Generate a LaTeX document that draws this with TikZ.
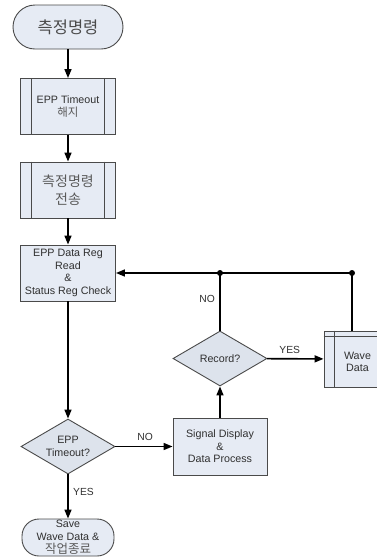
\documentclass[tikz,border=0pt]{standalone}
\usepackage{fontspec}
\setmainfont{Liberation Sans}
\newfontfamily\kr{Noto Sans CJK KR}
\usetikzlibrary{shapes.geometric,arrows.meta}

\definecolor{boxfill}{HTML}{E6EBF4}
\definecolor{dfill}{HTML}{DDE3EC}
\definecolor{edge}{HTML}{4A4A4A}
\definecolor{txtc}{HTML}{303030}
\definecolor{krc}{HTML}{5A5A5A}

\tikzset{
  base/.style={draw=edge, line width=0.9pt, fill=boxfill, inner sep=0pt,
    align=center, text=txtc, font=\fontsize{10.7}{12.5}\selectfont},
  terminal/.style={base, rounded corners=#1},
  procbox/.style={base, minimum width=95pt, minimum height=56pt},
  decision/.style={base, diamond, fill=dfill, minimum width=94pt,
    minimum height=55pt, aspect=1.7},
  flow/.style={line width=1.6pt, -{Triangle[length=9pt,width=7pt]}},
  link/.style={line width=1.6pt},
  tag/.style={text=txtc, font=\fontsize{10.3}{12}\selectfont},
  junction/.style={circle, fill=black, inner sep=0pt, minimum size=6pt},
  bar/.style={draw=edge, line width=0.9pt}
}

\begin{document}
\begin{tikzpicture}[x=1pt, y=-1pt]
  \useasboundingbox (0,0) rectangle (376,558);

  % start terminal
  \node[terminal=22pt, minimum width=110pt, minimum height=44pt,
        font=\kr\fontsize{16.5}{18}\selectfont, text=edge]
    (start) at (68,27) {측정명령};

  % predefined processes
  \node[procbox] (p1) at (68,106.5)
    {EPP Timeout\\[1pt]{\kr\color{krc}\fontsize{11.5}{12}\selectfont 해지}};
  \node[procbox, font=\kr\fontsize{14}{18}\selectfont, text=krc] (p2) at (68,190)
    {측정명령\\전송};
  \foreach \n in {p1,p2}{
    \draw[bar] ([xshift=11pt]\n.north west) -- ([xshift=11pt]\n.south west);
    \draw[bar] ([xshift=-12pt]\n.north east) -- ([xshift=-12pt]\n.south east);
  }

  % register read
  \node[procbox] (rd) at (68,273)
    {EPP Data Reg\\Read\\\&\\Status Reg Check};

  % decisions
  \node[decision] (dto) at (68,446.5) {EPP\\Timeout?};
  \node[decision] (rec) at (220,358.5) {Record?};

  % signal display
  \node[procbox, minimum width=94pt, minimum height=57pt] (sig) at (220,446.5)
    {Signal Display\\\&\\Data Process};

  % wave data (internal storage)
  \node[procbox, minimum width=56pt, minimum height=56pt] (wave) at (352,359) {};
  \draw[bar] ([xshift=11pt]wave.north west) -- ([xshift=11pt]wave.south west);
  \draw[bar] ([yshift=-6pt]wave.north west) -- ([yshift=-6pt]wave.north east);
  \node[tag, align=center, font=\fontsize{10.7}{12.5}\selectfont] (wavetxt) at (357.5,362) {Wave\\Data};

  % end terminal
  \node[terminal=17pt, minimum width=92pt, minimum height=37pt,
        font=\fontsize{10.7}{13}\selectfont]
    (stop) at (68,537.5) {Save\\Wave Data \&\\{\kr\color{krc}\fontsize{12.5}{13}\selectfont 작업종료}};

  % junctions on the return line
  \coordinate (jr) at (rec.north |- rd.east);
  \coordinate (jw) at (wave.north |- rd.east);
  \node[junction] at (jr) {};
  \node[junction] at (jw) {};

  % connectors
  \draw[flow] (start) -- (p1);
  \draw[flow] (p1) -- (p2);
  \draw[flow] (p2) -- (rd);
  \draw[flow] (rd) -- (dto);
  \draw[flow] (dto) -- node[tag, right=1pt, pos=0.4] {YES} (stop);
  \draw[flow] (dto) -- node[tag, above=2pt, pos=0.52] {NO} (sig);
  \draw[flow] (sig) -- (rec);
  \draw[flow] (rec) -- node[tag, above=1pt, pos=0.4] {YES} (wave);
  \draw[link] (rec.north) -- node[tag, left=1pt, pos=0.55] {NO} (jr);
  \draw[link] (wave.north) -- (jw);
  \draw[flow] (jw) -- (rd.east);
\end{tikzpicture}
\end{document}
